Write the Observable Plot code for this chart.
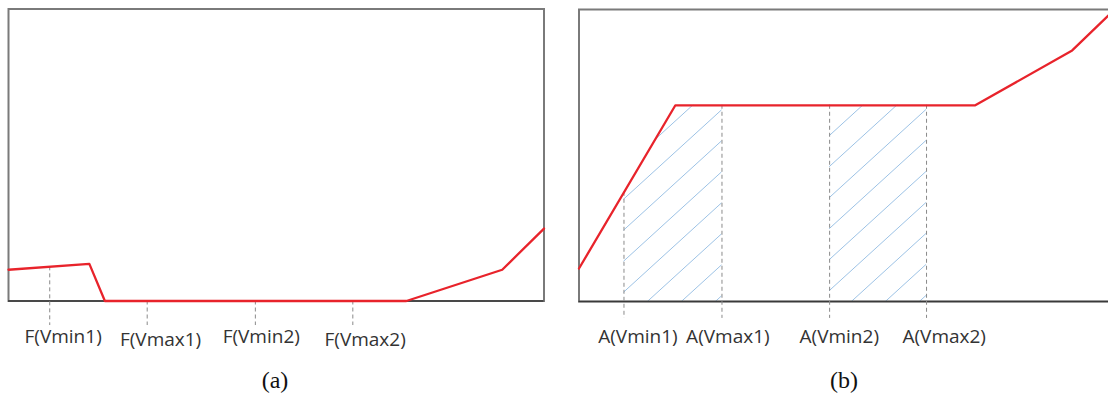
<!DOCTYPE html>
<html><head><meta charset="utf-8">
<script src="https://cdn.jsdelivr.net/npm/d3@7"></script>
<script src="https://cdn.jsdelivr.net/npm/@observablehq/plot@0.6"></script>
<style>
body{margin:0;background:#fff;}
#wrap{position:relative;width:1108px;height:394px;overflow:hidden;background:#fff;}
.panel{position:absolute;top:0;}
.cap{position:absolute;font-family:"Liberation Serif","Times New Roman",serif;font-size:24px;color:#111;transform:translateX(-50%);top:368px;line-height:24px;white-space:nowrap;}
</style></head><body>
<svg width="0" height="0" style="position:absolute">
  <defs>
    <pattern id="hatchB" patternUnits="userSpaceOnUse" width="34" height="31">
      <path d="M0,31 L34,0 M-2,1.8 L2,-1.8 M32,32.8 L36,29.2" stroke="#9cc2e5" stroke-width="1" fill="none"/>
    </pattern>
  </defs>
</svg>
<div id="wrap"></div>
<script>
// ---------- Panel (a) ----------
const aLineX = [0, 15.1, 18.0, 74.3, 92.2, 100];
const aLineY = [10.7, 12.7, 0, 0, 10.7, 24.8];
const aTickX = [7.7, 25.9, 46.1, 64.3];
const aTickTop = [11.7, 0, 0, 0];
const aTickBottom = -8.4;
const aLabels = ["F(Vmin1)", "F(Vmax1)", "F(Vmin2)", "F(Vmax2)"];
const aLabelX = [10.2, 28.4, 47.2, 66.6];
const aLabelY = [-12.3, -13.3, -12.3, -13.3];

// ---------- Panel (b) ----------
const bLineX = [0, 18.0, 74.0, 92.1, 100];
const bLineY = [11.3, 67.2, 67.2, 86.0, 100];
const bTickX = [8.4, 26.7, 46.8, 64.9];
const bTickTop = [37.4, 67.2, 67.2, 67.2];
const bTickBottom = -5.8;
const bLabels = ["A(Vmin1)", "A(Vmax1)", "A(Vmin2)", "A(Vmax2)"];
const bLabelX = [11.0, 27.8, 48.6, 68.2];
const bLabelY = [-12.0, -12.0, -12.0, -12.0];
const bHatchRegion = ["r1", "r1", "r1", "r2", "r2"];
const bHatchX = [8.4, 18.0, 26.7, 46.8, 64.9];
const bHatchY = [37.4, 67.2, 67.2, 67.2, 67.2];

const captions = ["(a)", "(b)"];

const RED = "#e8232b";
const GRID = "#8a8a8a";
const FONT = "'Open Sans', sans-serif";

function panel({lineX, lineY, tickX, tickTop, tickBottom, labels, labelX, labelY, hatch, marginLeft, marginRight, marginTop, marginBottom}) {
  const line = lineX.map((x, i) => ({x, y: lineY[i]}));
  const ticks = tickX.map((x, i) => ({x, y1: tickTop[i], y2: tickBottom}));
  const labs = labels.map((t, i) => ({text: t, x: labelX[i], y: labelY[i]}));
  const marks = [];
  if (hatch) {
    marks.push(Plot.areaY(hatch, {x: "x", y: "y", z: "region", fill: "url(#hatchB)", curve: "linear"}));
  }
  marks.push(
    Plot.frame({stroke: "#7a7a7a", strokeWidth: 2}),
    Plot.ruleY([0], {stroke: "#3a3a3a", strokeWidth: 1.5}),
    Plot.ruleX(ticks, {x: "x", y1: "y1", y2: "y2", stroke: GRID, strokeWidth: 1, strokeDasharray: "4,3"}),
    Plot.line(line, {x: "x", y: "y", stroke: RED, strokeWidth: 2.3}),
    Plot.text(labs, {x: "x", y: "y", text: "text", fontSize: 19, fontFamily: FONT, fill: "#333", textAnchor: "middle", lineAnchor: "middle"})
  );
  return Plot.plot({
    width: 556,
    height: 352,
    marginLeft, marginRight, marginTop, marginBottom,
    x: {domain: [0, 100], axis: null},
    y: {domain: [0, 100], axis: null},
    style: {background: "transparent", overflow: "visible"},
    marks
  });
}

const wrap = document.getElementById("wrap");

const pa = panel({
  lineX: aLineX, lineY: aLineY, tickX: aTickX, tickTop: aTickTop, tickBottom: aTickBottom,
  labels: aLabels, labelX: aLabelX, labelY: aLabelY, hatch: null,
  marginLeft: 8, marginRight: 12.5, marginTop: 8.5, marginBottom: 51.5
});
pa.classList.add("panel");
pa.style.left = "0px";
wrap.appendChild(pa);

const hatchB = bHatchX.map((x, i) => ({x, y: bHatchY[i], region: bHatchRegion[i]}));
const pb = panel({
  lineX: bLineX, lineY: bLineY, tickX: bTickX, tickTop: bTickTop, tickBottom: bTickBottom,
  labels: bLabels, labelX: bLabelX, labelY: bLabelY, hatch: hatchB,
  marginLeft: 8.5, marginRight: 12, marginTop: 9, marginBottom: 51
});
pb.classList.add("panel");
pb.style.left = "570px";
wrap.appendChild(pb);

const capX = [275, 844];
captions.forEach((c, i) => {
  const d = document.createElement("div");
  d.className = "cap";
  d.textContent = c;
  d.style.left = capX[i] + "px";
  wrap.appendChild(d);
});
</script>
</body></html>
